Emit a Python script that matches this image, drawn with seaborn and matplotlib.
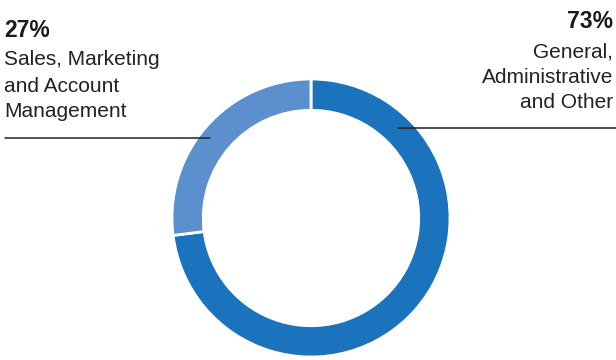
import matplotlib
matplotlib.use("Agg")
import matplotlib.pyplot as plt
import seaborn as sns
from matplotlib.lines import Line2D

# Dados do gráfico
categorias = ["General, Administrative and Other", "Sales, Marketing and Account Management"]
valores = [73, 27]
cores = ["#1b72bd", "#5b8fcd"]

# Textos dos rótulos
rotulo_esq = ["Sales, Marketing", "and Account", "Management"]
rotulo_dir = ["General,", "Administrative", "and Other"]

sns.set_theme(style="white")
plt.rcParams["font.family"] = ["Liberation Sans", "DejaVu Sans"]

W, H = 616, 360
fig = plt.figure(figsize=(W / 100, H / 100), dpi=100)

# Eixo posicionado para o centro do anel (pixels)
cx, cy, r = 311, 218, 139
ax = fig.add_axes([(cx - r) / W, (H - cy - r) / H, 2 * r / W, 2 * r / H])
ax.pie(
    valores,
    colors=cores,
    startangle=90,
    counterclock=False,
    radius=1,
    wedgeprops={"width": 0.225, "edgecolor": "white", "linewidth": 2},
)
ax.set_xlim(-1, 1)
ax.set_ylim(-1, 1)
ax.axis("off")


def px(x, y):
    return x / W, 1 - y / H


tam_pct = 16.5
tam_txt = 15

# Rótulo esquerdo
fig.text(*px(4, 37), f"{valores[1]}%", fontsize=tam_pct, fontweight="bold",
         color="#1a1a1a", ha="left", va="baseline")
for texto, y in zip(rotulo_esq, [65, 92, 117]):
    fig.text(*px(4, y), texto, fontsize=tam_txt, color="#222222", ha="left", va="baseline")

# Rótulo direito
fig.text(*px(613, 28), f"{valores[0]}%", fontsize=tam_pct, fontweight="bold",
         color="#1a1a1a", ha="right", va="baseline")
for texto, y in zip(rotulo_dir, [57, 83, 108]):
    fig.text(*px(613, y), texto, fontsize=tam_txt, color="#222222", ha="right", va="baseline")

# Linhas de chamada
x0, y0 = px(5, 138)
x1, _ = px(210, 138)
fig.add_artist(Line2D([x0, x1], [y0, y0], color="#222222", lw=1.1, transform=fig.transFigure))
x0, y0 = px(398, 128)
x1, _ = px(616, 128)
fig.add_artist(Line2D([x0, x1], [y0, y0], color="#222222", lw=1.1, transform=fig.transFigure))

plt.savefig("out.png", dpi=100)
